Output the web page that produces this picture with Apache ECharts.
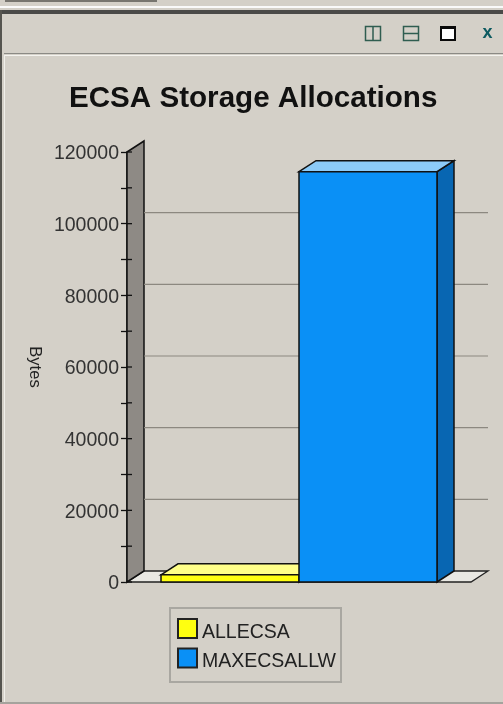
<!DOCTYPE html>
<html><head><meta charset="utf-8">
<style>html,body{margin:0;padding:0;background:#d4d0c8}#c{width:503px;height:704px}</style>
<script src="https://cdn.jsdelivr.net/npm/echarts@6/dist/echarts.min.js"></script>
</head><body><div id="c"></div>
<script>
const categories = ['ALLECSA', 'MAXECSALLW'];
const allecsaValues = [2000];
const maxecsallwValues = [114500];
const gridValues = [20000, 40000, 60000, 80000, 100000];
const tickValues = [0,10000,20000,30000,40000,50000,60000,70000,80000,90000,100000,110000,120000];
const titleText = 'ECSA Storage Allocations';
const yAxisName = 'Bytes';

const DX = 17, DY = -11, WALL_GAP = 34, FLOOR_EXTRA = 34;
const FONT = '"Liberation Sans", Arial, sans-serif';
const poly = (pts, fill, stroke, lw) => ({type:'polygon', shape:{points:pts}, style:{fill, stroke:stroke||'#111', lineWidth:lw==null?1.5:lw}});
const line = (x1,y1,x2,y2,stroke,lw) => ({type:'line', shape:{x1,y1,x2,y2}, style:{stroke, lineWidth:lw||1}});

function bar3d(cat, front, top, side) {
  return (params, api) => {
    const value = api.value(1);
    const bw = api.size([1,0])[0];
    const c = api.coord([cat, value]), b = api.coord([cat, 0]);
    const l = c[0]-bw/2, r = c[0]+bw/2, t = c[1], y0 = b[1];
    return {type:'group', children:[
      poly([[r,y0],[r+DX,y0+DY],[r+DX,t+DY],[r,t]], side),
      poly([[l,t],[l+DX,t+DY],[r+DX,t+DY],[r,t]], top),
      poly([[l,t],[r,t],[r,y0],[l,y0]], front)
    ]};
  };
}
function frame(params, api) {
  const bw = api.size([1,0])[0];
  const b = api.coord([categories[0], 0]), t = api.coord([categories[0], 120000]);
  const b2 = api.coord([categories[1], 0]);
  const x0 = b[0]-bw/2-WALL_GAP, x1 = b2[0]+bw/2+FLOOR_EXTRA;
  return {type:'group', children:[
    poly([[x0,b[1]],[x0+DX,b[1]+DY],[x1+DX,b[1]+DY],[x1,b[1]]], '#e9e8e3', '#222', 1.3),
    poly([[x0,t[1]],[x0+DX,t[1]+DY],[x0+DX,b[1]+DY],[x0,b[1]]], '#8e8a85', '#111', 1.5)
  ]};
}
function gridLine(params, api) {
  const bw = api.size([1,0])[0];
  const p = api.coord([categories[0], api.value(1)]), p2 = api.coord([categories[1], api.value(1)]);
  const x0 = p[0]-bw/2-WALL_GAP+DX, x1 = p2[0]+bw/2+FLOOR_EXTRA+DX;
  return line(x0, p[1]+DY, x1, p[1]+DY, '#8c8880', 1.2);
}
function tickStub(params, api) {
  const bw = api.size([1,0])[0];
  const p = api.coord([categories[0], api.value(1)]);
  const x0 = p[0]-bw/2-WALL_GAP;
  return line(x0, p[1], x0+5, p[1], '#111', 1.3);
}
const rect = (x,y,w,h,fill) => ({type:'rect', silent:true, z:-1, shape:{x,y,width:w,height:h}, style:{fill}});
const outline = (x,y,w,h,stroke,lw,fill) => ({type:'rect', silent:true, z:-1, shape:{x,y,width:w,height:h}, style:{fill:fill||'none',stroke,lineWidth:lw}});
const chrome = [
  rect(5,0,152,2,'#77756f'), rect(0,6,503,2,'#fafafa'), rect(0,10,503,4,'#4a4a48'),
  rect(0,10,2,694,'#55544f'), rect(4,53,499,1,'#8b8a85'), rect(4,55,499,1,'#f4f3ef'),
  rect(4,55,1,647,'#f0efea'), rect(0,702,503,2,'#a5a39d'),
  outline(365.5,26.5,15,14,'#2f5d50',1.5), line(373,26,373,41,'#2f5d50',1.5),
  outline(403.5,26.5,15,14,'#2f5d50',1.5), line(403,33.5,419,33.5,'#2f5d50',1.5),
  outline(441,27,14,13,'#0a0a0a',2,'#fff'), rect(440,26,16,3,'#0a0a0a'),
  {type:'text', silent:true, z:-1, style:{x:487.5,y:33,text:'x',fill:'#0d5a60',font:'bold 18px '+FONT,textAlign:'center',textVerticalAlign:'middle'}}
];

const chart = echarts.init(document.getElementById('c'), null, {renderer:'canvas'});
chart.setOption({
  animation:false,
  backgroundColor:'#d4d0c8',
  textStyle:{fontFamily:FONT},
  title:{text:titleText, left:64, top:79, textStyle:{fontFamily:FONT,fontWeight:'bold',fontSize:29.6,color:'#111'}},
  grid:{left:161, width:276, top:152, height:430},
  legend:{
    orient:'vertical', left:170, top:608, padding:[10,5,10,7], itemGap:5, itemWidth:19, itemHeight:19,
    backgroundColor:'#d4d0c8', borderColor:'#a9a7a1', borderWidth:2,
    data:categories, selectedMode:false, icon:'rect',
    formatter:n=>'{a|'+n+'}',
    textStyle:{rich:{a:{fontFamily:FONT,fontSize:19.5,color:'#222',padding:[8,0,0,0]}}}
  },
  xAxis:{type:'category', data:categories, show:false},
  yAxis:{type:'value', min:0, max:120000, interval:20000, offset:WALL_GAP,
    name:yAxisName, nameLocation:'middle', nameGap:84, nameRotate:-90,
    nameTextStyle:{fontFamily:FONT,fontSize:16.5,color:'#222'},
    axisLine:{show:true,lineStyle:{color:'#111',width:1.5}},
    axisTick:{show:true,length:6,lineStyle:{color:'#111',width:1.3}},
    minorTick:{show:true,splitNumber:2,length:6,lineStyle:{color:'#111',width:1.3}},
    splitLine:{show:false},
    axisLabel:{margin:8,formatter:v=>'{a|'+v+'}',rich:{a:{fontFamily:FONT,fontSize:19.5,color:'#333',padding:[4,0,0,0]}}}
  },
  graphic:{elements:chrome},
  series:[
    {type:'custom', name:'frame', z:1, silent:true, clip:false, renderItem:frame, data:[[0,0]]},
    {type:'custom', name:'grid', z:2, silent:true, clip:false, renderItem:gridLine, data:gridValues.map(v=>[0,v])},
    {type:'custom', name:'ticks', z:3, silent:true, clip:false, renderItem:tickStub, data:tickValues.map(v=>[0,v])},
    {type:'custom', name:categories[0], z:4, clip:false, renderItem:bar3d(categories[0],'#ffff10','#ffff88','#c8c800'),
     itemStyle:{color:'#ffff10',borderColor:'#222',borderWidth:2}, data:allecsaValues.map(v=>[categories[0],v])},
    {type:'custom', name:categories[1], z:5, clip:false, renderItem:bar3d(categories[1],'#0a90f6','#8ccbf8','#0866b2'),
     itemStyle:{color:'#0a90f6',borderColor:'#222',borderWidth:2}, data:maxecsallwValues.map(v=>[categories[1],v])}
  ]
});
</script></body></html>
